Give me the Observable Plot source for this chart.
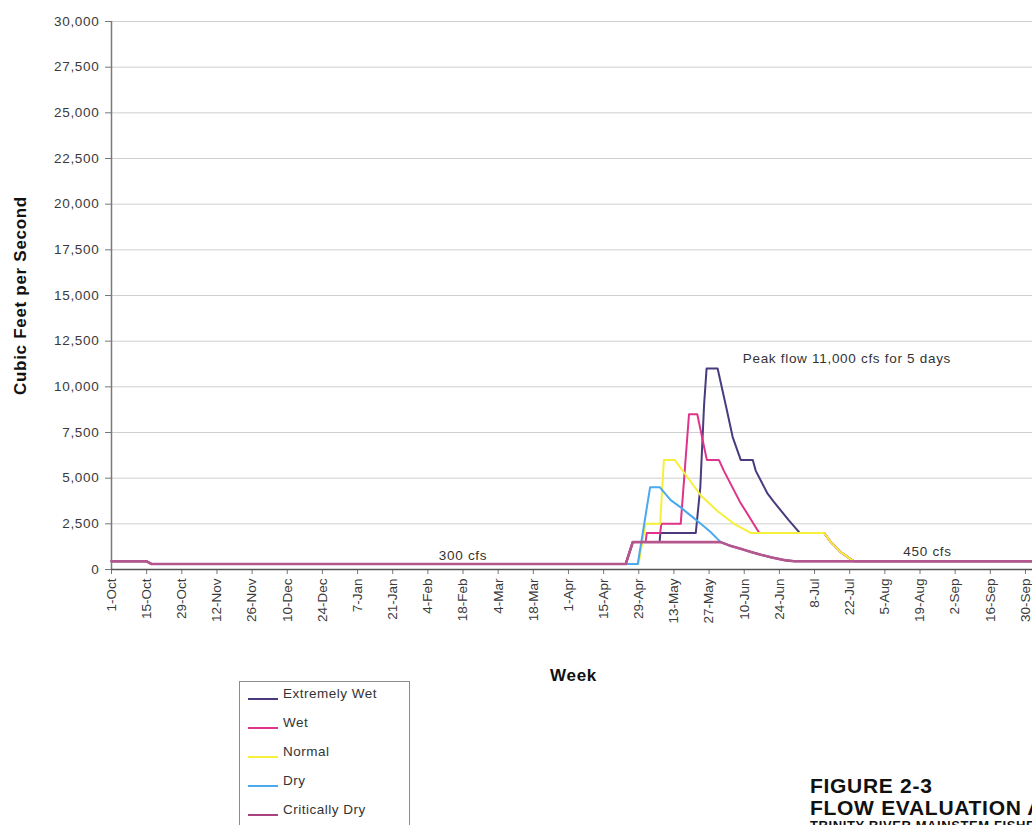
<!DOCTYPE html>
<html>
<head>
<meta charset="utf-8">
<script src="https://cdn.jsdelivr.net/npm/d3@7"></script>
<script src="https://cdn.jsdelivr.net/npm/@observablehq/plot@0.6"></script>
<style>
  html, body { margin: 0; padding: 0; overflow: hidden; background: #fff; }
  body { width: 1032px; height: 825px; font-family: "Liberation Sans", Arial, Helvetica, sans-serif; }
  #page { position: relative; width: 1060px; height: 825px; }
  #chart svg { max-width: none !important; }
  #chart g[aria-label="y-axis tick label"] text,
  #chart g[aria-label="text"] text { letter-spacing: 0.7px; }
  #legend { position: absolute; left: 239px; top: 681px; width: 171px; height: 170px; border: 1px solid #8c8c8c; box-sizing: border-box; background: #fff; }
  .lg-sw { position: absolute; left: 8px; width: 30px; height: 2px; }
  .lg-tx { position: absolute; left: 43px; font-size: 13.5px; letter-spacing: 0.5px; color: #333; line-height: 16px; white-space: nowrap; }
  #figtitle { position: absolute; left: 810px; top: 775px; white-space: nowrap; color: #111; }
  #figtitle .t1 { font-size: 21px; font-weight: bold; line-height: 22px; letter-spacing: 0.7px; }
  #figtitle .t2 { font-size: 13px; font-weight: bold; line-height: 14px; letter-spacing: 0.6px; }
</style>
</head>
<body>
<div id="page">
  <div id="chart"></div>
  <div id="legend"></div>
  <div id="figtitle">
    <div class="t1">FIGURE 2-3</div>
    <div class="t1">FLOW EVALUATION ALTERNATIVE</div>
    <div class="t2">TRINITY RIVER MAINSTEM FISHERY RESTORATION EIS/EIR</div>
  </div>
</div>
<script>
// ---- Data (day = days since 1-Oct, cfs = flow) ----
const seriesNames = ["Extremely Wet", "Wet", "Normal", "Dry", "Critically Dry"];
const seriesColors = ["#4b3a7e", "#df348b", "#f6f03a", "#4aa9ef", "#a8437f"];

const tickLabels = ["1-Oct","15-Oct","29-Oct","12-Nov","26-Nov","10-Dec","24-Dec","7-Jan","21-Jan",
  "4-Feb","18-Feb","4-Mar","18-Mar","1-Apr","15-Apr","29-Apr","13-May","27-May","10-Jun","24-Jun",
  "8-Jul","22-Jul","5-Aug","19-Aug","2-Sep","16-Sep","30-Sep"];
const tickStepDays = 14;
const yTicks = [0, 2500, 5000, 7500, 10000, 12500, 15000, 17500, 20000, 22500, 25000, 27500, 30000];

const extremelyWet = [[0,450],[14,450],[16,300],[204.8,300],[207.6,1500],[218.3,1500],[218.6,2000],
  [232.7,2000],[234.5,4500],[236,9000],[237,11000],[241.4,11000],[244.8,8900],[247.4,7250],[250.6,6000],
  [255.4,6000],[256.6,5400],[261.3,4150],[263.8,3700],[269.7,2700],[274.1,2000],[283.8,2000],
  [286.5,1500],[290.4,950],[295.1,500],[296,450],[368,450]];
const wet = [[0,450],[14,450],[16,300],[204.8,300],[207.6,1500],[212.7,1500],[213.2,2000],[218.5,2000],
  [219,2500],[226.7,2500],[230,8500],[233.3,8500],[237.1,6000],[241.9,6000],[243.9,5400],[250.3,3700],
  [258,2000],[283.8,2000],[286.5,1500],[290.4,950],[295.1,500],[296,450],[368,450]];
const normal = [[0,450],[14,450],[16,300],[209.9,300],[212.7,2500],[218.5,2500],[220,6000],[224.3,6000],
  [229.4,5050],[234.7,4050],[241.3,3200],[247.9,2500],[254.6,2000],[283.8,2000],[286.5,1500],
  [290.4,950],[295.1,500],[296,450],[368,450]];
const dry = [[0,450],[14,450],[16,300],[209.6,300],[214.5,4500],[218.4,4500],[222.7,3800],[226.7,3400],
  [230.7,2950],[234.7,2500],[238.6,2050],[242.6,1500],[246,1320],[250.6,1130],[255,950],[258.6,810],
  [263,660],[268.5,500],[272,450],[368,450]];
const criticallyDry = [[0,450],[14,450],[16,300],[204.8,300],[207.6,1500],[242.6,1500],[246,1320],
  [250.6,1130],[255,950],[258.6,810],[263,660],[268.5,500],[272,450],[368,450]];

const annotations = [
  {day: 140, cfs: 730, text: "300 cfs", anchor: "middle"},
  {day: 325, cfs: 950, text: "450 cfs", anchor: "middle"},
  {day: 251.4, cfs: 11550, text: "Peak flow 11,000 cfs for 5 days", anchor: "start"}
];

// ---- Build table ----
const seriesData = [extremelyWet, wet, normal, dry, criticallyDry];
const rows = [];
seriesData.forEach((pts, i) => pts.forEach(([day, cfs]) => rows.push({series: seriesNames[i], day, cfs})));
const tickDays = tickLabels.map((_, i) => i * tickStepDays);
const labelByDay = new Map(tickDays.map((d, i) => [d, tickLabels[i]]));

const font = "'Liberation Sans', Arial, Helvetica, sans-serif";
const chart = Plot.plot({
  width: 1050,
  height: 700,
  marginTop: 21,
  marginBottom: 131,
  marginLeft: 111,
  marginRight: 15,
  style: {fontFamily: font, fontSize: "13.5px", color: "#333", background: "#fff"},
  x: {domain: [0, 368]},
  y: {domain: [0, 30000]},
  color: {domain: seriesNames, range: seriesColors},
  marks: [
    Plot.gridY(yTicks, {stroke: "#cfcfcf", strokeOpacity: 1}),
    Plot.axisY({ticks: yTicks, tickFormat: d3.format(","), tickSize: 6, tickPadding: 6, label: null, stroke: "#777", fill: "#3a3a3a"}),
    Plot.axisX({ticks: tickDays, tickFormat: d => labelByDay.get(d), tickRotate: -90, tickSize: 5, tickPadding: 4, label: null, stroke: "#777", fill: "#3a3a3a"}),
    Plot.ruleX([0], {stroke: "#7a7a7a", strokeWidth: 1.5}),
    Plot.ruleY([0], {stroke: "#555", strokeWidth: 1.5}),
    Plot.line(rows, {x: "day", y: "cfs", z: "series", stroke: "series", strokeWidth: 2}),
    Plot.line(rows.filter(r => r.series === "Critically Dry"), {x: "day", y: "cfs", stroke: "#b5568f", strokeWidth: 2.6}),
    Plot.text(annotations.filter(a => a.anchor === "middle"), {x: "day", y: "cfs", text: "text", textAnchor: "middle", fill: "#333", fontSize: 13.5}),
    Plot.text(annotations.filter(a => a.anchor === "start"), {x: "day", y: "cfs", text: "text", textAnchor: "start", fill: "#333", fontSize: 13.5}),
    Plot.text(["Week"], {frameAnchor: "bottom", dy: 111, fontWeight: "bold", fontSize: 17, fill: "#111"}),
    Plot.text(["Cubic Feet per Second"], {frameAnchor: "left", textAnchor: "middle", dx: -91, rotate: -90, fontWeight: "bold", fontSize: 17, fill: "#111"})
  ]
});
document.getElementById("chart").appendChild(chart);

// ---- Legend ----
const legend = document.getElementById("legend");
seriesNames.forEach((name, i) => {
  const lineY = 17 + i * 29;
  const sw = document.createElement("div");
  sw.className = "lg-sw";
  sw.style.top = (lineY - 1) + "px";
  sw.style.background = seriesColors[i];
  legend.appendChild(sw);
  const tx = document.createElement("div");
  tx.className = "lg-tx";
  tx.style.top = (lineY - 13) + "px";
  tx.textContent = name;
  legend.appendChild(tx);
});
</script>
</body>
</html>
